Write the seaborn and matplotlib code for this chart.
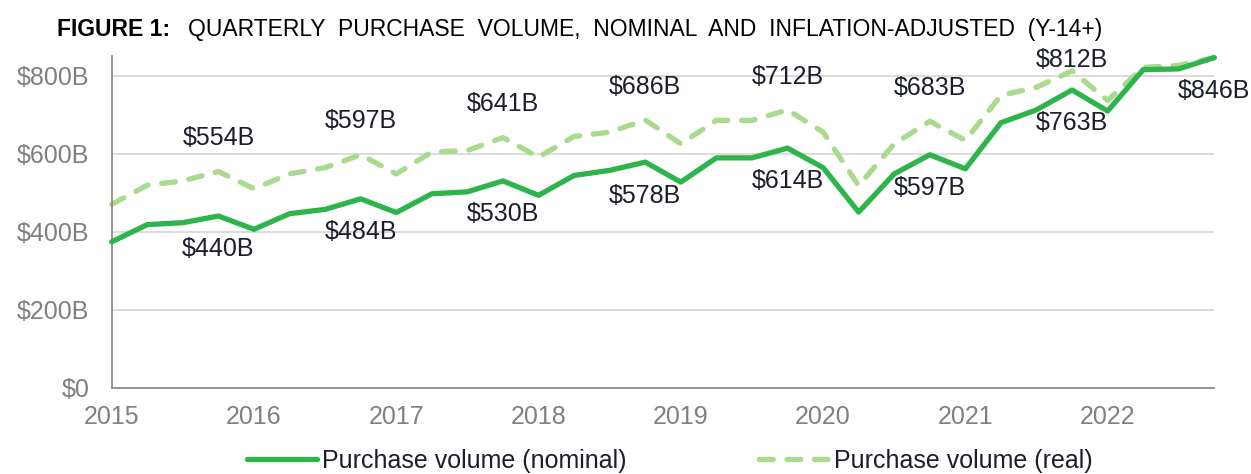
import pandas as pd
import matplotlib.pyplot as plt
import seaborn as sns
import numpy as np

sns.set_theme(style='white')
plt.rcParams['font.family'] = ['Liberation Sans', 'DejaVu Sans']

# ==========================================
# data (billions of dollars, 2015Q1 .. 2022Q4)
# ==========================================
years = [2015, 2016, 2017, 2018, 2019, 2020, 2021, 2022]
quarters = [1, 2, 3, 4]

nominal = [374, 418, 423, 440, 406, 446, 457, 484,
           449, 497, 502, 530, 493, 544, 557, 578,
           527, 589, 589, 614, 564, 450, 548, 597,
           561, 679, 712, 763, 709, 815, 817, 846]
real = [470, 519, 530, 554, 510, 548, 564, 597,
        548, 604, 608, 641, 591, 644, 655, 686,
        625, 685, 685, 712, 655, 518, 625, 683,
        634, 749, 770, 812, 736, 821, 826, 846]

# which points carry a value label
label_real_idx = [3, 7, 11, 15, 19, 23, 27]
label_nom_idx = [3, 7, 11, 15, 19, 23, 27, 31]

x = [y + (q - 1) / 4 for y in years for q in quarters]
df = pd.DataFrame({'t': x, 'nominal': nominal, 'real': real})

c_nom = '#2db44b'
c_real = '#a8db8e'
grey = '#808080'
txt = '#1c1f2a'

fig = plt.figure(figsize=(12.51, 4.74), dpi=100)
ax = fig.add_axes([0.0893, 0.182, 0.8814, 0.6998])

sns.lineplot(data=df, x='t', y='nominal', ax=ax, color=c_nom, lw=3.8,
             label='Purchase volume (nominal)', clip_on=False, zorder=3)
sns.lineplot(data=df, x='t', y='real', ax=ax, color=c_real, lw=3.8,
             label='Purchase volume (real)', clip_on=False, zorder=2)
ax.lines[1].set_dashes([2.6, 2.6])
ax.lines[1].set_dash_capstyle('round')

# value labels
for i in label_real_idx:
    dy = 8 if real[i] > 800 else 24
    ax.annotate(f'${real[i]}B', (x[i], real[i]), xytext=(0, dy),
                textcoords='offset points', ha='center', va='center',
                fontsize=18, color=txt, annotation_clip=False)
for i in label_nom_idx:
    ax.annotate(f'${nominal[i]}B', (x[i], nominal[i]), xytext=(0, -24),
                textcoords='offset points', ha='center', va='center',
                fontsize=18, color=txt, annotation_clip=False)

ax.set_xlim(2015, 2022.75)
ax.set_ylim(0, 850)
ax.set_yticks([0, 200, 400, 600, 800])
ax.set_yticklabels(['$0', '$200B', '$400B', '$600B', '$800B'])
ax.set_xticks(years)
ax.set_xticklabels([str(y) for y in years])
ax.set_xticks(x, minor=True)
ax.set_xlabel('')
ax.set_ylabel('')

ax.grid(axis='y', color='#d9d9d9', lw=1.3)
ax.set_axisbelow(True)
for s in ['top', 'right']:
    ax.spines[s].set_visible(False)
for s in ['left', 'bottom']:
    ax.spines[s].set_color('#8c8c8c')
    ax.spines[s].set_linewidth(1.3)
ax.tick_params(axis='both', which='both', direction='out', colors='#8c8c8c',
               labelcolor=grey, labelsize=18, width=1.3)
ax.tick_params(axis='x', which='both', length=5.5, pad=7)
ax.tick_params(axis='y', length=5, pad=11)

ax.legend(loc='center', bbox_to_anchor=(0.506, -0.221), ncol=2, frameon=False,
          fontsize=18, handlelength=2.8, columnspacing=5.3, handletextpad=0.2,
          labelcolor=txt)

fig.text(0.0456, 0.937, 'FIGURE 1:', fontsize=16.5, fontweight='bold',
         color='black', va='center')
fig.text(0.1503, 0.937, 'QUARTERLY  PURCHASE  VOLUME,  NOMINAL  AND  INFLATION-ADJUSTED  (Y-14+)',
         fontsize=16.5, color='black', va='center')

plt.savefig('out.png', dpi=100)
